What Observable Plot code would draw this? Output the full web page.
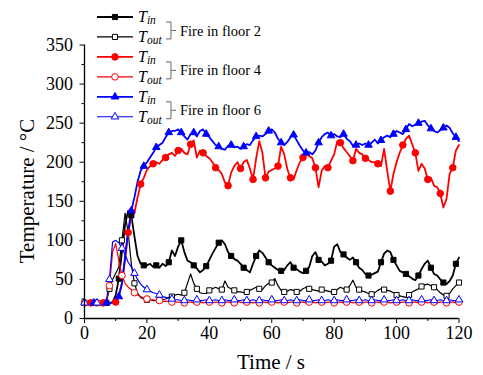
<!DOCTYPE html>
<html><head><meta charset="utf-8">
<script src="https://cdn.jsdelivr.net/npm/d3@7"></script>
<script src="https://cdn.jsdelivr.net/npm/@observablehq/plot@0.6"></script>
<style>
body{margin:0;background:#fff}
svg, svg text{font-family:"Liberation Serif","Times New Roman",serif !important}
</style>
</head><body><div id="chart"></div>
<script>
// time stamps (s), one reading per second
const times = d3.range(0, 121);

// Fire in floor 2
const floor2Tin = [
20,20,20,20,20,20,20,20,20,21,
30,51,85,120,138,132,105,80,70,68,
68,70,66,68,65,70,67,72,87,80,
92,100,85,74,72,68,64,59,62,67,
75,83,90,97,100,95,85,80,76,74,
70,65,62,59,70,80,87,84,78,72,
68,65,62,61,62,68,72,65,63,60,
58,61,66,80,85,75,73,68,70,74,
92,95,85,82,78,75,78,72,65,62,
57,55,56,58,60,72,83,87,85,75,
68,61,59,57,54,51,49,55,63,70,
74,65,57,55,50,46,44,48,55,70,78];
const floor2Tout = [
20,20,20,20,20,20,20,21,38,50,
58,66,100,135,110,70,45,32,27,25,
24,24,23,23,24,24,25,27,28,30,
31,30,33,45,57,45,38,33,32,32,
36,38,40,38,37,48,40,38,36,34,
34,33,34,36,38,40,38,37,42,45,
46,51,42,36,34,35,37,36,34,35,
38,40,38,37,36,35,37,36,35,34,
34,37,40,38,37,42,49,40,37,35,
34,32,31,33,36,38,37,36,35,33,
30,29,28,27,30,34,36,38,41,43,
44,42,40,37,33,30,29,32,38,42,46];
// Fire in floor 4
const floor4Tin = [
20,20,20,20,20,20,20,20,20,20,
21,30,45,75,110,130,135,155,172,180,
190,195,198,200,198,203,206,210,212,208,
215,217,212,210,223,228,206,215,212,208,
205,200,193,190,185,174,170,187,195,200,
192,200,203,192,178,205,227,212,180,188,
190,192,195,220,210,191,180,178,190,200,
206,210,208,205,193,168,189,195,193,202,
210,227,225,218,213,208,202,217,212,210,
205,203,200,200,198,195,217,189,163,185,
200,212,222,230,234,223,212,189,198,192,
178,180,170,168,160,142,153,185,193,215,222];
const floor4Tout = [
20,20,20,20,20,20,20,21,42,85,
96,74,55,45,40,37,33,30,28,26,
25,24,24,23,23,22,22,22,21,21,
21,21,20,21,21,20,21,21,20,21,
21,20,21,21,20,21,21,20,20,21,
21,20,21,21,20,21,20,21,21,20,
21,21,20,21,21,20,21,21,20,21,
21,20,21,21,20,21,21,20,21,21,
20,21,21,20,21,21,20,21,21,20,
21,21,20,21,21,20,21,21,20,21,
21,20,21,21,20,21,21,20,21,21,
20,21,21,20,21,21,20,21,21,20,21];
// Fire in floor 6
const floor6Tin = [
20,20,20,20,20,20,20,20,20,20,
21,28,45,80,112,138,155,175,189,195,
200,206,212,219,222,225,232,238,240,240,
242,238,233,229,236,238,233,240,242,236,
232,227,222,220,217,216,221,222,219,220,
217,220,223,222,228,233,234,233,236,240,
242,238,230,225,222,226,232,235,228,221,
215,212,213,210,215,225,232,236,238,234,
236,233,232,236,230,227,221,222,224,222,
224,222,225,229,224,228,232,234,232,236,
240,238,236,242,249,246,248,250,252,253,
247,243,240,238,241,244,247,244,237,232,227];
const floor6Tout = [
20,20,20,20,20,20,20,21,50,98,
100,97,90,82,72,66,58,50,44,40,
37,35,33,32,30,28,27,26,25,24,
24,23,23,24,23,23,24,23,23,24,
23,23,24,23,23,24,23,23,24,23,
23,24,23,23,24,23,23,24,23,23,
24,23,23,24,23,23,24,23,23,24,
23,23,24,23,23,24,23,23,24,23,
23,24,23,23,24,23,23,24,23,23,
24,23,23,24,23,23,24,23,23,24,
23,23,24,23,23,24,23,23,24,23,
23,24,23,23,24,23,23,24,23,23,24];

const xTicks = [0, 20, 40, 60, 80, 100, 120];
const xMinor = [10, 30, 50, 70, 90, 110];
const yTicks = [0, 50, 100, 150, 200, 250, 300, 350];
const yMinor = [25, 75, 125, 175, 225, 275, 325];
const floorNames = ["Fire in floor 2", "Fire in floor 4", "Fire in floor 6"];
const xLabel = "Time / s";
const yLabel = "Temperature / \u00B0C";

const FONT = "Liberation Serif";
const series = [
  {values: floor2Tin,  color: "#000000", symbol: "square",   filled: true,  sw: 1.8, r: 2.9, off: 3, sub: "in"},
  {values: floor2Tout, color: "#000000", symbol: "square",   filled: false, sw: 1.2, r: 2.9, off: 0, sub: "out"},
  {values: floor4Tin,  color: "#ff0000", symbol: "circle",   filled: true,  sw: 1.8, r: 3.3, off: 2, sub: "in"},
  {values: floor4Tout, color: "#ff0000", symbol: "circle",   filled: false, sw: 1.2, r: 3.3, off: 0, sub: "out"},
  {values: floor6Tin,  color: "#0000ff", symbol: "triangle", filled: true,  sw: 1.8, r: 2.8, off: 3, sub: "in"},
  {values: floor6Tout, color: "#0000ff", symbol: "triangle", filled: false, sw: 1.2, r: 2.8, off: 0, sub: "out"}
];
const idx = d3.range(times.length);

const marks = [];
for (const s of series) {
  marks.push(Plot.line(idx, {x: i => times[i], y: i => s.values[i], stroke: s.color, strokeWidth: s.sw}));
}
for (const s of series) {
  marks.push(Plot.dot(idx.filter(i => i % 4 === s.off), {
    x: i => times[i], y: i => s.values[i], symbol: s.symbol, r: s.r,
    fill: s.filled ? s.color : "white", stroke: s.color, strokeWidth: 1
  }));
}

const chart = Plot.plot({
  width: 483, height: 375,
  marginLeft: 84, marginRight: 24.5, marginTop: 44.5, marginBottom: 57,
  style: {fontFamily: "'Liberation Serif', serif", background: "white", color: "#000"},
  x: {domain: [0, 120]},
  y: {domain: [0, 350]},
  marks: [
    ...marks,
    Plot.axisY({ticks: yTicks, tickSize: 4.5, tickPadding: 7, fontSize: 18, fontFamily: FONT, label: null, tickFormat: d => String(d)}),
    Plot.axisY({ticks: yMinor, tickSize: 2.5, label: null, tickFormat: () => ""}),
    Plot.axisX({ticks: xTicks, tickSize: 5, tickPadding: 3, fontSize: 18, fontFamily: FONT, label: null, tickFormat: d => String(d)}),
    Plot.axisX({ticks: xMinor, tickSize: 3, label: null, tickFormat: () => ""}),
    Plot.ruleX([0], {stroke: "#000", strokeWidth: 1.3}),
    Plot.ruleY([0], {stroke: "#000", strokeWidth: 1.3})
  ]
});
document.getElementById("chart").appendChild(chart);

const svg = d3.select(chart);
// axis titles
svg.append("text").attr("x", 271).attr("y", 369).attr("text-anchor", "middle")
  .attr("font-family", FONT).attr("font-size", 21).attr("fill", "#000").text(xLabel);
svg.append("text").attr("transform", "translate(34,191) rotate(-90)").attr("text-anchor", "middle")
  .attr("font-family", FONT).attr("font-size", 21).attr("fill", "#000").text(yLabel);

// legend
const lg = svg.append("g").attr("font-family", FONT).attr("text-anchor", "start");
const symMap = {square: d3.symbolSquare, circle: d3.symbolCircle, triangle: d3.symbolTriangle};
series.forEach((s, k) => {
  const y = 17 + k * 19.95;
  lg.append("line").attr("x1", 97).attr("x2", 133).attr("y1", y).attr("y2", y)
    .attr("stroke", s.color).attr("stroke-width", s.sw);
  lg.append("path").attr("d", d3.symbol(symMap[s.symbol], Math.PI * s.r * s.r)())
    .attr("transform", `translate(115,${y})`)
    .attr("fill", s.filled ? s.color : "white").attr("stroke", s.color).attr("stroke-width", 1);
  const t = lg.append("text").attr("x", 138).attr("y", y + 5).attr("font-size", 16)
    .attr("text-anchor", "start").attr("font-style", "italic").attr("fill", "#000");
  t.append("tspan").text("T");
  t.append("tspan").attr("font-size", 11.5).attr("dy", 2).text(s.sub);
});
floorNames.forEach((name, p) => {
  const y1 = 17 + 2 * p * 19.95 + 5, y2 = 17 + (2 * p + 1) * 19.95 + 2, ym = (y1 + y2) / 2;
  lg.append("path").attr("d", `M166,${y1}H171V${y2}H166M171,${ym}H176`)
    .attr("fill", "none").attr("stroke", "#666").attr("stroke-width", 1);
  lg.append("text").attr("x", 180).attr("y", ym).attr("dy", "0.35em").attr("font-size", 14.5)
    .attr("text-anchor", "start").attr("fill", "#000").text(name);
});
svg.selectAll("text").attr("font-family", FONT);
</script>
</body></html>
